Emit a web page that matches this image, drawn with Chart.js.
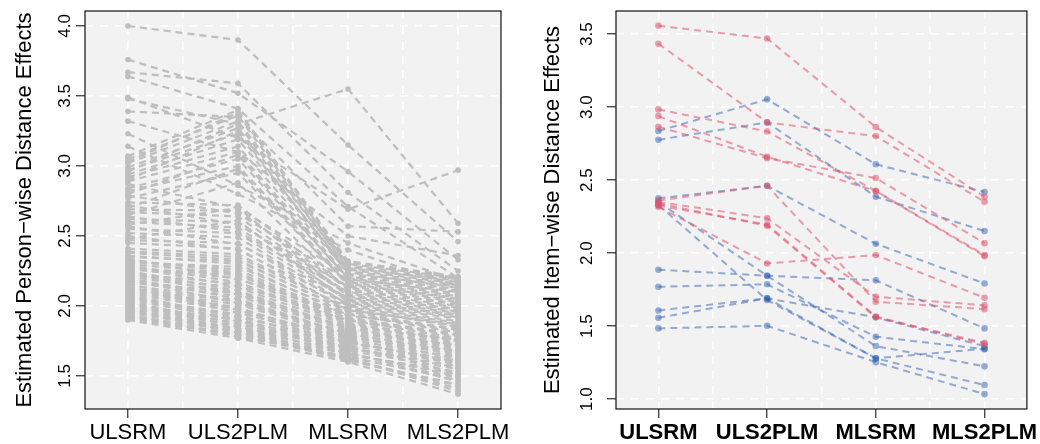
<!DOCTYPE html>
<html>
<head>
<meta charset="utf-8">
<script src="https://cdn.jsdelivr.net/npm/chart.js@4.4.0/dist/chart.umd.min.js"></script>
<style>
  body { margin: 0; background: #fff; }
  .panel { position: absolute; top: 0; width: 520px; height: 444px; }
</style>
</head>
<body>
<div class="panel" style="left:0"><canvas id="personChart" width="520" height="444"></canvas></div>
<div class="panel" style="left:520px"><canvas id="itemChart" width="520" height="444"></canvas></div>
<script>
const categories = ['ULSRM', 'ULS2PLM', 'MLSRM', 'MLS2PLM'];
const gridX = [1, 1.5, 2, 2.5, 3, 3.5, 4];
const personTicks = [1.5, 2.0, 2.5, 3.0, 3.5, 4.0];
const itemTicks = [1.0, 1.5, 2.0, 2.5, 3.0, 3.5];

// one row per person: ULSRM, ULS2PLM, MLSRM, MLS2PLM
const personEffects = [
  [4.00, 3.90, 3.15, 2.46], [3.76, 3.52, 2.96, 2.33], [3.67, 3.59, 2.81, 2.25],
  [3.64, 3.41, 2.71, 2.20], [3.48, 3.30, 3.55, 2.59], [3.49, 3.20, 2.69, 2.97],
  [3.39, 3.35, 2.57, 2.53], [3.32, 3.10, 2.50, 2.36], [3.23, 2.86, 2.45, 2.18],
  [3.14, 2.80, 2.40, 2.14],
  [3.07, 3.40, 2.32, 2.21], [3.05, 3.36, 2.29, 2.19], [3.02, 3.32, 2.30, 2.20],
  [2.99, 3.27, 2.28, 2.17], [2.97, 3.23, 2.25, 2.15], [2.94, 3.19, 2.26, 2.16],
  [2.92, 3.14, 2.24, 2.13], [2.89, 3.10, 2.21, 2.11], [2.87, 2.70, 2.22, 2.12],
  [2.84, 3.05, 2.20, 2.09], [2.82, 3.00, 2.17, 2.07], [2.79, 2.66, 2.18, 2.08],
  [2.77, 2.95, 2.16, 2.05], [2.74, 2.72, 2.13, 2.03], [2.72, 2.58, 2.14, 2.04],
  [2.69, 2.68, 2.12, 2.01], [2.67, 2.64, 2.09, 1.99], [2.64, 2.53, 2.10, 2.00],
  [2.62, 2.60, 2.08, 1.97], [2.60, 2.56, 2.05, 1.95], [2.57, 2.44, 2.06, 1.96],
  [2.55, 2.52, 2.04, 1.93], [2.52, 2.49, 2.01, 1.91], [2.50, 2.40, 2.02, 1.92],
  [2.47, 2.45, 2.00, 1.89], [2.45, 2.41, 1.97, 1.87],
  [3.03, 3.38, 2.31, 2.20], [2.96, 3.30, 2.27, 2.18], [2.90, 3.25, 2.23, 2.14],
  [2.80, 3.08, 2.19, 2.10], [2.70, 2.98, 2.15, 2.06], [2.65, 2.88, 2.11, 2.02],
  [2.58, 2.70, 2.07, 1.98], [2.48, 2.61, 2.03, 1.94],
  [2.41, 2.37, 1.98, 1.85], [2.38, 2.33, 1.96, 1.83], [2.36, 2.30, 1.93, 1.84],
  [2.34, 2.19, 1.94, 1.81], [2.32, 2.26, 1.92, 1.79], [2.30, 2.23, 1.89, 1.80],
  [2.28, 2.14, 1.90, 1.77], [2.26, 2.20, 1.88, 1.75], [2.24, 2.08, 1.85, 1.76],
  [2.22, 2.13, 1.86, 1.73], [2.21, 2.10, 1.84, 1.71], [2.19, 2.02, 1.81, 1.72],
  [2.17, 2.07, 1.82, 1.69], [2.15, 2.04, 1.80, 1.67], [2.14, 1.95, 1.77, 1.68],
  [2.12, 2.01, 1.78, 1.65], [2.10, 1.98, 1.76, 1.63], [2.09, 1.96, 1.73, 1.64],
  [2.07, 1.89, 1.74, 1.61], [2.05, 1.93, 1.72, 1.59], [2.04, 1.91, 1.69, 1.60],
  [2.02, 1.85, 1.70, 1.57], [2.00, 1.88, 1.68, 1.55], [1.99, 1.86, 1.65, 1.53],
  [1.97, 1.81, 1.66, 1.51], [1.96, 1.84, 1.63, 1.49], [1.94, 1.78, 1.64, 1.47],
  [1.93, 1.82, 1.61, 1.44], [1.91, 1.79, 1.62, 1.41], [1.90, 1.77, 1.60, 1.37],
  [2.39, 2.35, 1.99, 1.88], [2.35, 2.32, 1.97, 1.86], [2.33, 2.24, 1.91, 1.80],
  [2.31, 2.28, 1.95, 1.82], [2.29, 2.17, 1.88, 1.76], [2.27, 2.22, 1.91, 1.78],
  [2.25, 2.11, 1.84, 1.72], [2.23, 2.16, 1.87, 1.74], [2.20, 2.05, 1.80, 1.68],
  [2.18, 2.09, 1.83, 1.70], [2.16, 1.97, 1.78, 1.66], [2.13, 2.03, 1.79, 1.62],
  [2.11, 1.99, 1.74, 1.60], [2.08, 1.92, 1.75, 1.58], [2.06, 1.94, 1.70, 1.56],
  [2.03, 1.87, 1.71, 1.52], [2.01, 1.90, 1.66, 1.50], [1.98, 1.84, 1.67, 1.46],
  [1.95, 1.83, 1.62, 1.43], [1.92, 1.80, 1.63, 1.39]
];

// items, two groups (pink and blue)
const itemsPink = [
  [3.557, 3.470, 2.863, 2.386], [3.434, 2.895, 2.801, 2.351],
  [2.984, 2.833, 2.425, 1.986], [2.938, 2.660, 2.425, 1.979],
  [2.865, 2.650, 2.514, 2.068], [2.360, 2.461, 1.667, 1.616],
  [2.351, 2.238, 1.701, 1.642], [2.340, 2.187, 1.560, 1.386],
  [2.317, 1.929, 1.986, 1.694], [2.325, 2.195, 1.565, 1.375]
];
const itemsBlue = [
  [2.836, 3.053, 2.608, 2.418], [2.776, 2.895, 2.386, 2.151],
  [2.375, 2.461, 2.064, 1.792], [1.886, 1.845, 1.813, 1.484],
  [2.350, 1.845, 1.363, 1.224], [1.769, 1.786, 1.427, 1.342],
  [1.607, 1.690, 1.560, 1.362], [1.557, 1.690, 1.279, 1.096],
  [2.330, 1.678, 1.279, 1.345], [1.484, 1.502, 1.253, 1.034]
];

const FONT = '"Liberation Sans", Arial, Helvetica, sans-serif';

function lineSet(rows, color, radius, width) {
  return rows.map(r => ({
    data: r.map((v, i) => ({ x: i + 1, y: v })),
    borderColor: color,
    backgroundColor: color,
    pointBackgroundColor: color,
    borderWidth: width,
    borderDash: [7, 5],
    pointRadius: radius,
    pointBorderWidth: 0,
    pointHoverRadius: radius,
    tension: 0
  }));
}

// R-like frame: grey panel, box, rotated y labels and title
const rFrame = {
  id: 'rFrame',
  beforeDraw(chart) {
    const { ctx, chartArea: a } = chart;
    ctx.save();
    ctx.fillStyle = '#f2f2f2';
    ctx.fillRect(a.left, a.top, a.right - a.left, a.bottom - a.top);
    ctx.restore();
  },
  afterDraw(chart, args, opts) {
    const { ctx, chartArea: a } = chart;
    const y = chart.scales.y;
    ctx.save();
    ctx.strokeStyle = '#111';
    ctx.lineWidth = 1.2;
    ctx.strokeRect(a.left, a.top, a.right - a.left, a.bottom - a.top);
    ctx.fillStyle = '#000';
    ctx.textAlign = 'center';
    ctx.textBaseline = 'middle';
    ctx.font = '17px ' + FONT;
    y.ticks.forEach(t => {
      ctx.save();
      ctx.translate(opts.tickX, y.getPixelForValue(t.value));
      ctx.rotate(-Math.PI / 2);
      ctx.fillText(t.value.toFixed(1), 0, 0);
      ctx.restore();
    });
    ctx.font = '22px ' + FONT;
    ctx.translate(opts.titleX, (a.top + a.bottom) / 2);
    ctx.rotate(-Math.PI / 2);
    ctx.fillText(opts.title, 0, 0);
    ctx.restore();
  }
};

function makeChart(id, datasets, cfg) {
  return new Chart(document.getElementById(id), {
    type: 'line',
    data: { datasets },
    plugins: [rFrame],
    options: {
      responsive: false,
      animation: false,
      events: [],
      layout: { padding: { top: 11, right: cfg.padRight, left: 0, bottom: 0 } },
      plugins: {
        legend: { display: false },
        tooltip: { enabled: false },
        rFrame: { tickX: cfg.tickX, titleX: cfg.titleX, title: cfg.title }
      },
      scales: {
        x: {
          type: 'linear',
          min: 0.61, max: 4.39,
          afterBuildTicks: s => { s.ticks = gridX.map(v => ({ value: v })); },
          afterFit: s => { s.height = 35; },
          border: { display: false, dash: [8, 7] },
          grid: {
            color: '#ffffff', lineWidth: 1.6, tickLength: 9, tickWidth: 1,
            tickColor: c => Number.isInteger(c.tick && c.tick.value) ? '#000' : 'rgba(0,0,0,0)'
          },
          ticks: {
            autoSkip: false, maxRotation: 0, padding: 2, color: '#000',
            font: { family: FONT, size: 22, weight: cfg.boldX ? 'bold' : 'normal', lineHeight: 1.2 },
            callback: v => Number.isInteger(v) ? categories[v - 1] : ''
          }
        },
        y: {
          min: cfg.yMin, max: cfg.yMax,
          afterBuildTicks: s => { s.ticks = cfg.yTicks.map(v => ({ value: v })); },
          afterFit: s => { s.width = cfg.yWidth; },
          border: { display: false, dash: [8, 7] },
          grid: { color: '#ffffff', lineWidth: 1.6, tickLength: 9, tickWidth: 1, tickColor: '#000' },
          ticks: { display: false }
        }
      }
    }
  });
}

makeChart('personChart', lineSet(personEffects, '#bebebe', 2.8, 2.2), {
  padRight: 19, yWidth: 85, tickX: 65, titleX: 25,
  yMin: 1.264, yMax: 4.107, yTicks: personTicks, boldX: false,
  title: 'Estimated Person\u2212wise Distance Effects'
});

makeChart('itemChart',
  lineSet(itemsPink, 'rgba(223,83,107,0.55)', 3.3, 2).concat(lineSet(itemsBlue, 'rgba(50,95,175,0.5)', 3.3, 2)), {
  padRight: 9, yWidth: 96, tickX: 67, titleX: 33,
  yMin: 0.932, yMax: 3.658, yTicks: itemTicks, boldX: true,
  title: 'Estimated Item\u2212wise Distance Effects'
});
</script>
</body>
</html>
